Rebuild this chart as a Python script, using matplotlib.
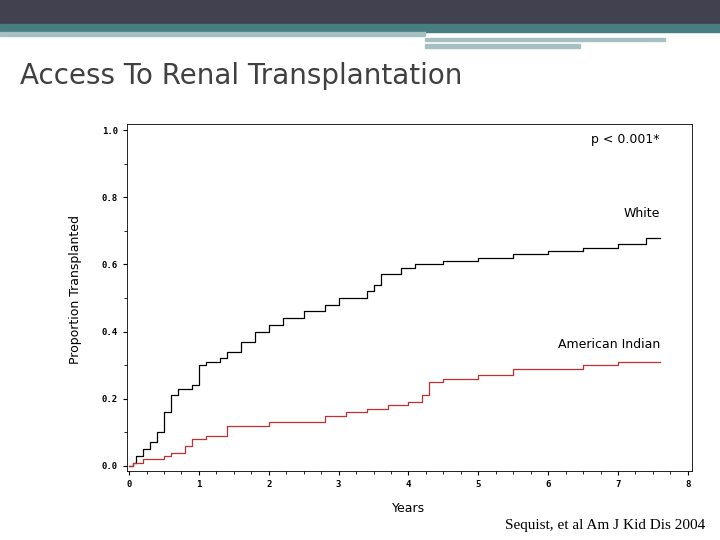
import numpy as np
import matplotlib.pyplot as plt
from matplotlib.patches import Rectangle

# Kaplan-Meier style step curves
white_t = [0, 0.05, 0.1, 0.2, 0.3, 0.4, 0.5, 0.6, 0.7, 0.9, 1.0, 1.1, 1.3, 1.4, 1.6, 1.8,
           2.0, 2.2, 2.5, 2.8, 3.0, 3.4, 3.5, 3.6, 3.9, 4.1, 4.5, 5.0, 5.5, 6.0, 6.5, 7.0, 7.4, 7.6]
white_p = [0, 0.01, 0.03, 0.05, 0.07, 0.10, 0.16, 0.21, 0.23, 0.24, 0.30, 0.31, 0.32, 0.34, 0.37, 0.40,
           0.42, 0.44, 0.46, 0.48, 0.50, 0.52, 0.54, 0.57, 0.59, 0.60, 0.61, 0.62, 0.63, 0.64, 0.65, 0.66, 0.68, 0.68]
indian_t = [0, 0.05, 0.2, 0.5, 0.6, 0.8, 0.9, 1.1, 1.4, 2.0, 2.8, 3.1, 3.4, 3.7, 4.0, 4.2, 4.3,
            4.5, 5.0, 5.5, 6.5, 7.0, 7.6]
indian_p = [0, 0.01, 0.02, 0.03, 0.04, 0.06, 0.08, 0.09, 0.12, 0.13, 0.15, 0.16, 0.17, 0.18, 0.19, 0.21, 0.25,
            0.26, 0.27, 0.29, 0.30, 0.31, 0.31]
x_ticks = [0, 1, 2, 3, 4, 5, 6, 7, 8]
y_ticks = [0.0, 0.2, 0.4, 0.6, 0.8, 1.0]

fig = plt.figure(figsize=(7.2, 5.4), dpi=100)

# slide banner
fig.patches.append(Rectangle((0, 1 - 24 / 540), 1, 24 / 540, transform=fig.transFigure, color="#41414f"))
fig.patches.append(Rectangle((0, 1 - 32 / 540), 1, 8 / 540, transform=fig.transFigure, color="#467e82"))
fig.patches.append(Rectangle((0, 1 - 36 / 540), 425 / 720, 4 / 540, transform=fig.transFigure, color="#a6bfc2"))
fig.patches.append(Rectangle((425 / 720, 1 - 48 / 540), 155 / 720, 4 / 540, transform=fig.transFigure, color="#a6bfc2"))
fig.patches.append(Rectangle((425 / 720, 1 - 41 / 540), 240 / 720, 3 / 540, transform=fig.transFigure, color="#a6bfc2"))

fig.text(20 / 720, 1 - 76 / 540, "Access To Renal Transplantation", fontsize=20, color="#404040",
         family="DejaVu Sans", fontweight="medium", va="center", ha="left")

ax = fig.add_axes([127 / 720, 1 - 471 / 540, 565 / 720, 347 / 540])
ax.step(white_t, white_p, where="post", color="black", lw=0.9)
ax.step(indian_t, indian_p, where="post", color="#c03030", lw=0.9)
ax.set_xlim(-0.03, 8.06)
ax.set_ylim(-0.015, 1.018)
ax.set_xticks(x_ticks)
ax.set_yticks(y_ticks)
ax.set_xticks(np.arange(0, 8.01, 0.25), minor=True)
ax.set_yticks(np.arange(0, 1.01, 0.1), minor=True)
ax.set_xticklabels([str(v) for v in x_ticks], fontsize=6.5, family="DejaVu Sans Mono", fontweight="bold")
ax.set_yticklabels(["%.1f" % v for v in y_ticks], fontsize=6.5, family="DejaVu Sans Mono", fontweight="bold")
ax.tick_params(length=3, width=0.8)
ax.tick_params(which="minor", length=2)
for s in ax.spines.values():
    s.set_linewidth(0.6)

ax.text(7.6, 0.96, "p < 0.001*", ha="right", fontsize=9)
ax.text(7.6, 0.74, "White", ha="right", fontsize=9)
ax.text(7.6, 0.35, "American Indian", ha="right", fontsize=9)

fig.text(409 / 720, 1 - 509 / 540, "Years", ha="center", va="center", fontsize=9)
fig.text(75 / 720, 1 - 290 / 540, "Proportion Transplanted", rotation=90, ha="center", va="center", fontsize=9)
fig.text(705 / 720, 1 - 526 / 540, "Sequist, et al Am J Kid Dis 2004", ha="right", va="center",
         fontsize=11, family="Liberation Serif")

fig.savefig("out.png", dpi=100)
